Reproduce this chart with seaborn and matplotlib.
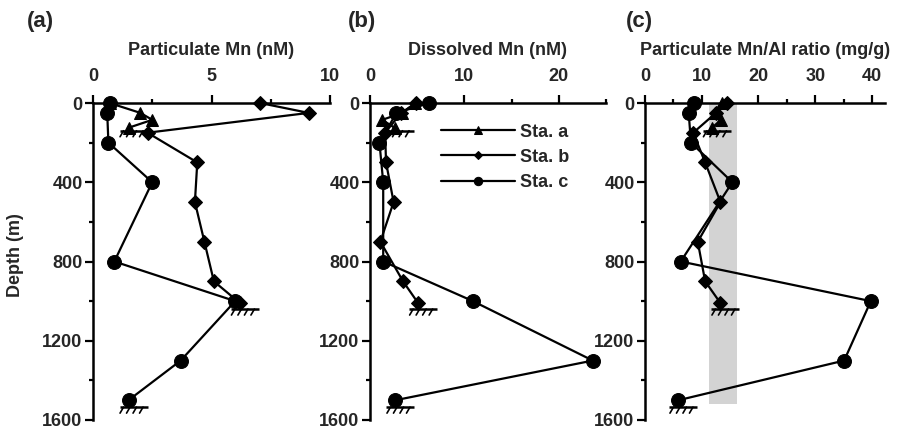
import numpy as np
import pandas as pd
import matplotlib
matplotlib.use("Agg")
import matplotlib.pyplot as plt
import seaborn as sns
from matplotlib.ticker import MultipleLocator

# ---------------- data ----------------
stations = ["Sta. a", "Sta. b", "Sta. c"]
depth_a = [0, 50, 85, 125]
depth_b = [0, 50, 150, 300, 500, 700, 900, 1010]
depth_c = [0, 50, 200, 400, 800, 1000, 1300, 1500]
seafloor_depths = [140, 1040, 1535]

# panel (a) Particulate Mn (nM)
pmn_a = [0.7, 2.0, 2.5, 1.5]
pmn_b = [7.05, 9.1, 2.3, 4.4, 4.3, 4.7, 5.1, 6.2]
pmn_c = [0.7, 0.6, 0.65, 2.5, 0.9, 6.0, 3.7, 1.5]

# panel (b) Dissolved Mn (nM)
dmn_a = [4.8, 3.4, 1.3, 2.6]
dmn_b = [4.9, 3.3, 1.6, 1.7, 2.5, 1.1, 3.5, 5.1]
dmn_c = [6.3, 2.8, 1.0, 1.4, 1.4, 10.9, 23.6, 2.7]

# panel (c) Particulate Mn/Al ratio (mg/g)
ratio_a = [13.5, 12.3, 13.4, 11.8]
ratio_b = [14.5, 12.5, 8.5, 10.6, 13.3, 9.3, 10.6, 13.3]
ratio_c = [8.7, 7.7, 8.1, 15.4, 6.3, 39.8, 35.1, 5.9]
crust_band = [11.3, 16.2]
crust_band_depth = [0, 1520]

panel_titles = ["Particulate Mn (nM)", "Dissolved Mn (nM)",
                "Particulate Mn/Al ratio (mg/g)"]
panel_letters = ["(a)", "(b)", "(c)"]
depth_ticks = [0, 400, 800, 1200, 1600]

# ---------------- style ----------------
sns.set_theme(style="ticks")
plt.rcParams["font.family"] = ["Liberation Sans", "DejaVu Sans"]
plt.rcParams["font.weight"] = "bold"
plt.rcParams["axes.labelweight"] = "bold"

fig = plt.figure(figsize=(9.15, 4.3), dpi=100)
W, H = 915.0, 430.0

def ax_at(x0, x1, y0=103, y1=420):
    return fig.add_axes([x0 / W, 1 - y1 / H, (x1 - x0) / W, (y1 - y0) / H])

axes = [ax_at(93, 330), ax_at(370, 606), ax_at(645, 885)]
xlims = [(0, 10), (0, 25), (0, 42.3)]
majors = [5, 10, 10]
minors = [2.5, 5, 5]

panels = [
    (pmn_a, pmn_b, pmn_c),
    (dmn_a, dmn_b, dmn_c),
    (ratio_a, ratio_b, ratio_c),
]
depths = [depth_a, depth_b, depth_c]
markers = ["^", "D", "o"]
msizes = [8.5, 6.8, 10]

def seafloor(ax, xv, d):
    # seabed symbol just below the deepest sample
    cx, cy = ax.transData.transform((xv, d))
    cx += 5
    inv = ax.transData.inverted()
    pts = inv.transform([(cx - 14, cy), (cx + 14, cy)])
    ax.plot(pts[:, 0], pts[:, 1], color="black", lw=1.8, clip_on=False,
            solid_capstyle="butt")
    for i in range(4):
        sx = cx - 10 + i * 6.5
        p = inv.transform([(sx, cy), (sx - 3.5, cy - 6)])
        ax.plot(p[:, 0], p[:, 1], color="black", lw=1.2, clip_on=False)

for k, ax in enumerate(axes):
    vals = panels[k]
    if k == 2:
        ax.fill_betweenx(crust_band_depth, crust_band[0], crust_band[1],
                         color="#d3d3d3", lw=0, zorder=0)
    for s in range(3):
        df = pd.DataFrame({"value": vals[s], "depth": depths[s]})
        sns.lineplot(data=df, x="value", y="depth", sort=False, estimator=None,
                     marker=markers[s], markersize=msizes[s], color="black",
                     markeredgecolor="black", lw=1.6, ax=ax,
                     label=stations[s] if k == 1 else None, clip_on=False,
                     zorder=3)
    ax.set_xlim(*xlims[k])
    ax.set_ylim(1600, 0)

    ax.xaxis.tick_top()
    ax.xaxis.set_label_position("top")
    ax.xaxis.set_major_locator(MultipleLocator(majors[k]))
    ax.xaxis.set_minor_locator(MultipleLocator(minors[k]))
    ax.yaxis.set_minor_locator(MultipleLocator(200))
    ax.set_yticks(depth_ticks)
    ax.set_yticklabels([str(t) for t in depth_ticks])
    ax.xaxis.set_major_formatter(matplotlib.ticker.FuncFormatter(
        lambda v, p: f"{v:g}"))

    for sp in ["right", "bottom"]:
        ax.spines[sp].set_visible(False)
    for sp in ["left", "top"]:
        ax.spines[sp].set_linewidth(1.8)
        ax.spines[sp].set_color("black")
    ax.tick_params(axis="x", which="major", direction="out", length=5.5,
                   width=1.6, color="black", labelsize=13, pad=7.5)
    ax.tick_params(axis="y", which="major", direction="out", length=5.5,
                   width=1.6, color="black", labelsize=13, pad=2)
    ax.tick_params(axis="both", which="minor", direction="out", length=3,
                   width=1.6, color="black")
    for lab in ax.get_xticklabels() + ax.get_yticklabels():
        lab.set_fontweight("bold")
    ax.set_xlabel(panel_titles[k], fontsize=13, fontweight="bold", labelpad=9)
    ax.set_ylabel("")
    ax.patch.set_alpha(0)

# seabed symbols (after limits are fixed)
for k, ax in enumerate(axes):
    for s in range(3):
        seafloor(ax, panels[k][s][-1], seafloor_depths[s])

# legend in panel (b)
leg = axes[1].legend(loc="upper left", bbox_to_anchor=(0.30, 0.935),
                     frameon=False, handlelength=4.1, handletextpad=0.3,
                     labelspacing=0.45, borderpad=0, borderaxespad=0,
                     markerscale=0.6, prop={"size": 13, "weight": "bold"})
for ax in (axes[0], axes[2]):
    if ax.get_legend():
        ax.get_legend().remove()

for x, lab in zip([40, 362, 639], panel_letters):
    fig.text(x / W, 1 - 22 / H, lab, fontsize=16, fontweight="bold",
             ha="center", va="center")
fig.text(15 / W, 1 - 255 / H, "Depth (m)", fontsize=13, fontweight="bold",
         rotation=90, ha="center", va="center")

fig.savefig("out.png", dpi=100)
